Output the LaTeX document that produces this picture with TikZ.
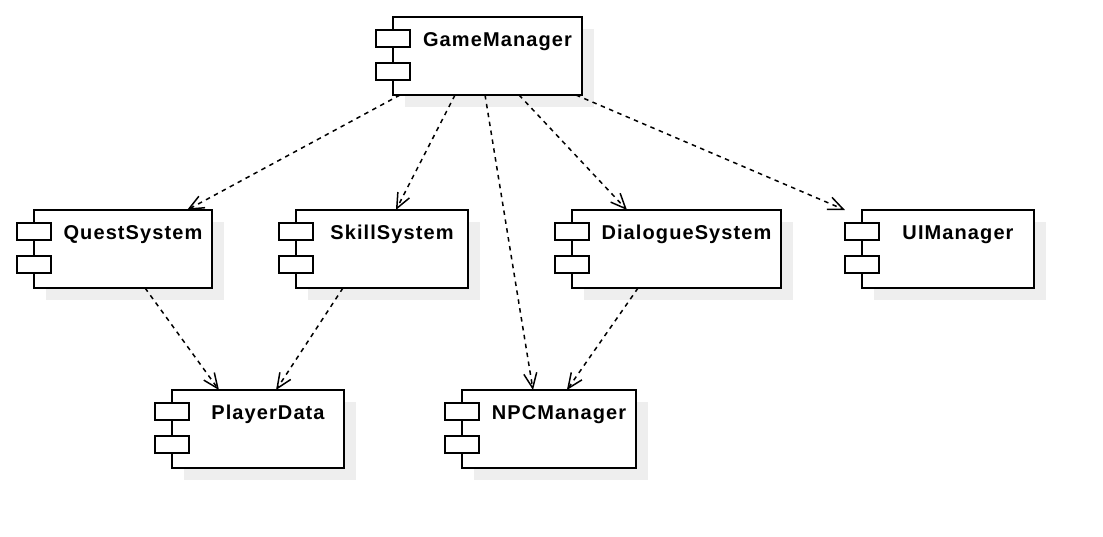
\documentclass[tikz,border=0pt]{standalone}
\usepackage{fontspec}
\newfontfamily\compfont[LetterSpace=5.5]{Liberation Sans}
\usetikzlibrary{
    arrows.meta,
    positioning,
    calc
}
\definecolor{shadowgray}{RGB}{238,238,238}

\tikzset{
    compbox/.style={draw, fill=white, line width=1.5pt, rectangle, inner sep=0pt, outer sep=0pt, minimum height=78pt},
    compport/.style={draw, fill=white, line width=1.5pt, rectangle, inner sep=0pt, outer sep=0pt, minimum width=34pt, minimum height=17pt},
    complabel/.style={font=\compfont\bfseries\fontsize{20}{22}\selectfont, anchor=base, inner sep=0pt},
    dep/.style={line width=1.5pt, dash pattern=on 4.5pt off 4.5pt, -{Straight Barb[length=15pt,width=13pt]}}
}

% component box: name, x, y, width, label
\newcommand{\umlcomp}[5]{%
    \fill[shadowgray] (#2+12,#3+12) rectangle ++(#4,78);
    \node[compbox, minimum width=#4pt, anchor=north west] (#1) at (#2,#3) {};
    \node[compport, anchor=north] (#1-p1) at ($(#1.north west)+(0,13)$) {};
    \node[compport, anchor=north] (#1-p2) at ($(#1.north west)+(0,46)$) {};
    \node[complabel] (#1-txt) at ($(#1.north west)+(10+#4/2,29)$) {#5};
}

\begin{document}
\begin{tikzpicture}[x=1pt, y=-1pt]
\useasboundingbox (0,0) rectangle (1103,536);

% Components
\umlcomp{gm}{393}{17}{189}{GameManager}
\umlcomp{quest}{34}{210}{178}{QuestSystem}
\umlcomp{skill}{296}{210}{172}{SkillSystem}
\umlcomp{dialog}{572}{210}{209}{DialogueSystem}
\umlcomp{ui}{862}{210}{172}{UIManager}
\umlcomp{player}{172}{390}{172}{PlayerData}
\umlcomp{npc}{462}{390}{174}{NPCManager}

% Dependencies
\foreach \s/\fs/\t/\ft in {gm/0.037/quest/0.86, gm/0.328/skill/0.581,
    gm/0.487/npc/0.408, gm/0.667/dialog/0.263, gm/0.968/ui/-0.099,
    quest/0.624/player/0.273, skill/0.273/player/0.605, dialog/0.316/npc/0.603} {
    \draw[dep] ($(\s.south west)!\fs!(\s.south east)$) -- ($(\t.north west)!\ft!(\t.north east)$);
}

\end{tikzpicture}
\end{document}
